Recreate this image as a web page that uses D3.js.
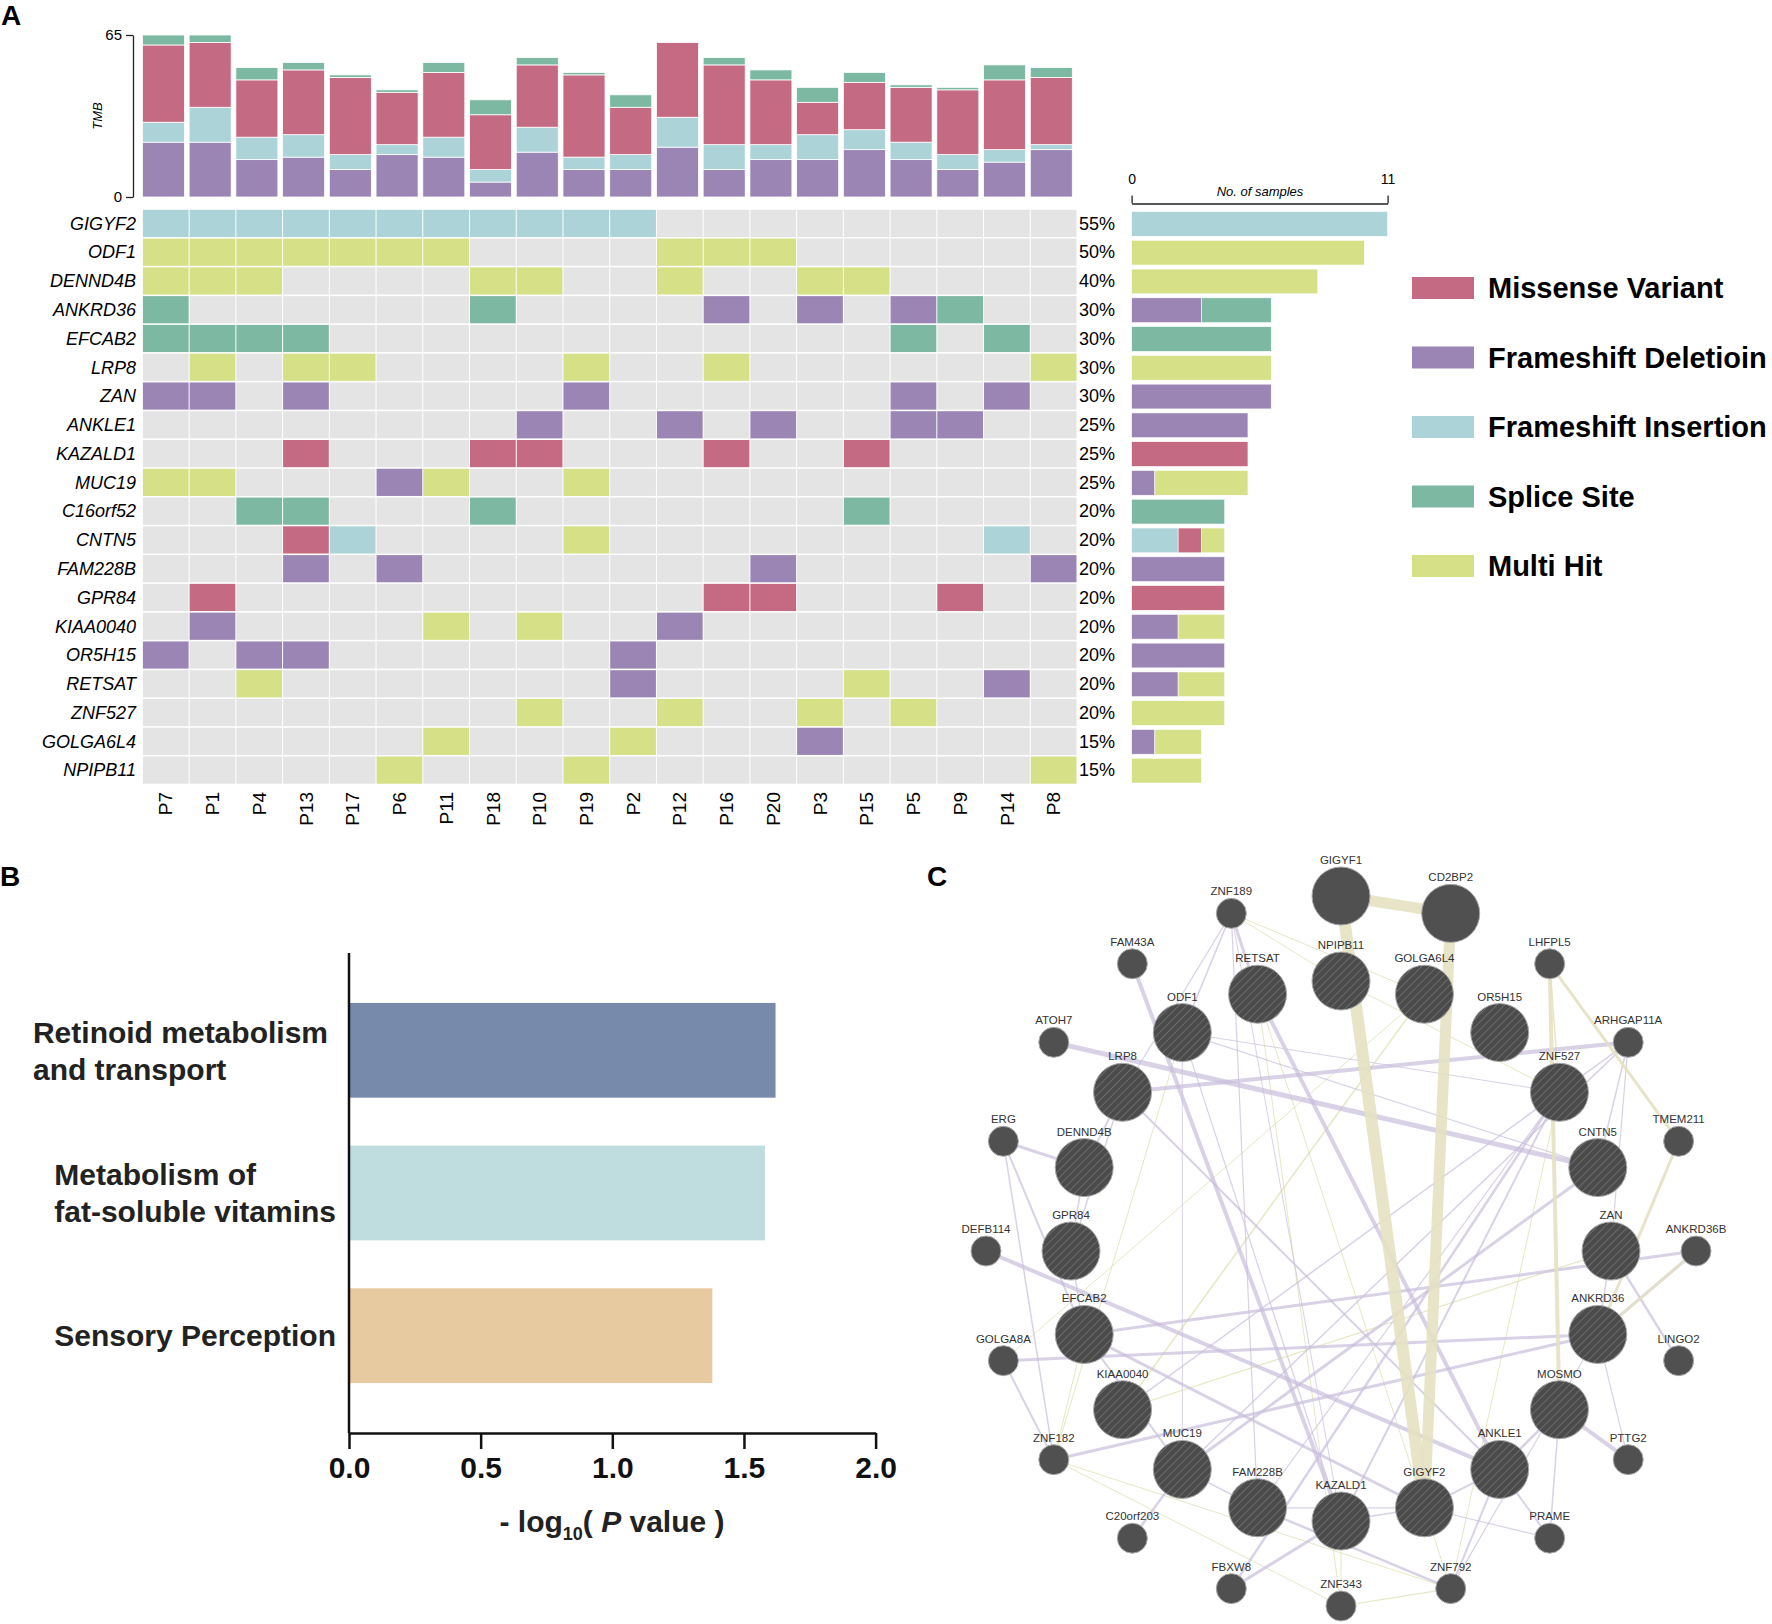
<!DOCTYPE html>
<html>
<head>
<meta charset="utf-8">
<script src="https://cdn.jsdelivr.net/npm/d3@7"></script>
<style>
  body { margin: 0; background: #fff; }
  svg { font-family: "Liberation Sans", Arial, sans-serif; }
</style>
</head>
<body>
<script>
// ---- panel A data ----
const patients = ["P7","P1","P4","P13","P17","P6","P11","P18","P10","P19","P2","P12","P16","P20","P3","P15","P5","P9","P14","P8"];

// TMB per patient, stacked bottom -> top
const tmbDeletion  = [22,22,15,16,11,17,16,6,18,11,11,20,11,15,15,19,15,11,14,19];
const tmbInsertion = [8,14,9,9,6,4,8,5,10,5,6,12,10,6,10,8,7,6,5,2];
const tmbMissense  = [31,26,23,26,31,21,26,22,25,33,19,30,32,26,13,19,22,26,28,27];
const tmbSplice    = [4,3,5,3,1,1,4,6,3,1,5,0,3,4,6,4,1,1,6,4];

const genes = ["GIGYF2","ODF1","DENND4B","ANKRD36","EFCAB2","LRP8","ZAN","ANKLE1","KAZALD1","MUC19",
  "C16orf52","CNTN5","FAM228B","GPR84","KIAA0040","OR5H15","RETSAT","ZNF527","GOLGA6L4","NPIPB11"];

// one char per patient: M missense, D deletion, I insertion, S splice, H multi hit
const mutations = [
  "IIIIIIIIIII.........",
  "HHHHHHH....HHH......",
  "HHH....HH..H..HH....",
  "S......S....D.D.DS..",
  "SSSS............S.S.",
  ".H.HH....H..H......H",
  "DD.D.....D......D.D.",
  "........D..D.D..DD..",
  "...M...MM...M..M....",
  "HH...DH..H..........",
  "..SS...S.......S....",
  "...MI....H........I.",
  "...D.D.......D.....D",
  ".M..........MM...M..",
  ".D....H.H..D........",
  "D.DD......D.........",
  "..H.......D....H..D.",
  "........H..H..H.H...",
  "......H...H...D.....",
  ".....H...H.........H"
];

const typeKeys   = ["M","D","I","S","H"];
const typeNames  = ["Missense Variant","Frameshift Deletioin","Frameshift Insertion","Splice Site","Multi Hit"];
const typeColors = ["#c56a83","#9b85b5","#abd3d8","#7db8a2","#d5e087"];
const sideOrder  = ["I","D","M","S","H"];

// ---- panel B data ----
const pathways = [["Retinoid metabolism","and transport"],["Metabolism of","fat-soluble vitamins"],["Sensory Perception"]];
const pathwayValues = [1.62, 1.58, 1.38];
const pathwayColors = ["#788aab","#bfdcdf","#e8caa0"];
const xTicksB = [0, 0.5, 1.0, 1.5, 2.0];

// ---- panel C data ----
const innerGenes = ["NPIPB11","GOLGA6L4","OR5H15","ZNF527","CNTN5","ZAN","ANKRD36","MOSMO","ANKLE1","GIGYF2",
  "KAZALD1","FAM228B","MUC19","KIAA0040","EFCAB2","GPR84","DENND4B","LRP8","ODF1","RETSAT"];
const outerGenes = ["GIGYF1","CD2BP2","LHFPL5","ARHGAP11A","TMEM211","ANKRD36B","LINGO2","PTTG2","PRAME","ZNF792",
  "ZNF343","FBXW8","C20orf203","ZNF182","GOLGA8A","DEFB114","ERG","ATOH7","FAM43A","ZNF189"];
const bigOuter = ["GIGYF1","CD2BP2"];

// [source, target, kind, width]  kind: p physical, y co-expression, b shared
const edges = [
  ["ZNF189","GOLGA6L4","y",1], ["ZNF189","NPIPB11","y",1], ["NPIPB11","ZNF527","y",1],
  ["GOLGA6L4","KIAA0040","y",1.5], ["GOLGA6L4","GOLGA8A","y",1], ["RETSAT","ZNF343","y",1],
  ["RETSAT","GIGYF2","y",1], ["ODF1","ZNF182","y",1], ["ZNF182","ZNF792","y",1],
  ["ZNF182","ZNF343","y",1], ["ZNF343","ZNF792","y",1.2], ["GIGYF2","ZNF792","y",1],
  ["KAZALD1","ZNF343","y",1], ["ZAN","KIAA0040","y",1.2], ["ZNF527","ZNF792","y",1],
  ["EFCAB2","ZNF182","y",1], ["LHFPL5","ZNF527","y",1.5],
  ["ATOH7","CNTN5","p",5], ["LRP8","ARHGAP11A","p",4], ["FAM43A","KAZALD1","p",4],
  ["RETSAT","ANKLE1","p",4], ["ZNF189","RETSAT","p",3], ["ZNF189","ODF1","p",1.5],
  ["ZNF189","LRP8","p",1.2], ["ZNF189","FAM228B","p",1.2], ["ZNF189","KAZALD1","p",1],
  ["ODF1","CNTN5","p",1.2], ["ODF1","ZNF527","p",1], ["ODF1","MUC19","p",1], ["ODF1","KAZALD1","p",1.2],
  ["LRP8","ANKLE1","p",2], ["LRP8","DENND4B","p",2], ["LRP8","GPR84","p",1.5],
  ["DENND4B","ERG","p",3], ["DENND4B","GPR84","p",1.5], ["ERG","EFCAB2","p",2], ["ERG","ZNF182","p",1.5],
  ["GPR84","EFCAB2","p",1.5], ["DEFB114","ANKLE1","p",4], ["EFCAB2","ANKRD36B","p",3],
  ["EFCAB2","GIGYF2","p",3], ["EFCAB2","MUC19","p",2], ["GOLGA8A","ANKRD36","p",3],
  ["GOLGA8A","ZNF182","p",2], ["ZNF182","ANKRD36","p",3], ["MUC19","CNTN5","p",3],
  ["MUC19","C20orf203","p",2.5], ["MUC19","FAM228B","p",1.5], ["FAM228B","ZNF792","p",2.5],
  ["FAM228B","GIGYF2","p",1.2], ["KAZALD1","FBXW8","p",3], ["KAZALD1","GIGYF2","p",1.5],
  ["KAZALD1","ZNF527","p",2], ["FBXW8","ZNF527","p",2.5], ["ZNF792","ANKLE1","p",2],
  ["ZNF792","ANKRD36","p",1.2], ["GIGYF2","ANKLE1","p",2], ["GIGYF2","PRAME","p",1.2],
  ["ANKLE1","PRAME","p",2], ["ANKLE1","MOSMO","p",2.5], ["MOSMO","PTTG2","p",4],
  ["MOSMO","PRAME","p",1.5], ["ZAN","LINGO2","p",2.5], ["ANKRD36","PTTG2","p",1.2],
  ["ANKRD36B","ANKRD36","p",3], ["ARHGAP11A","ZNF527","p",1.5], ["ARHGAP11A","CNTN5","p",1.5],
  ["ARHGAP11A","ZAN","p",1.2], ["ARHGAP11A","MUC19","p",1.5], ["ZNF527","FAM228B","p",1.2],
  ["ZNF527","KIAA0040","p",1.5], ["ZAN","ANKRD36","p",1.5],
  ["LHFPL5","MOSMO","b",4], ["LHFPL5","TMEM211","b",3], ["TMEM211","ANKRD36","b",3],
  ["ANKRD36B","ANKRD36","b",2.5],
  ["GIGYF1","CD2BP2","b",11], ["GIGYF1","GIGYF2","b",12], ["CD2BP2","GIGYF2","b",11]
];

const W = 1772, H = 1624;
const svg = d3.select("body").append("svg").attr("width", W).attr("height", H);

const color = d3.scaleOrdinal().domain(typeKeys).range(typeColors);

// panel letters
[["A", 1, 25], ["B", 0, 886], ["C", 927, 886]].forEach(([t, x, y]) => {
  svg.append("text").attr("x", x).attr("y", y).attr("font-size", 28)
    .attr("font-weight", "bold").text(t);
});

// ================= A: oncoprint =================
const x = d3.scaleBand().domain(patients).range([142.4, 1077]);
const yRow = d3.scaleBand().domain(genes).range([209, 784.5]);
const yTmb = d3.scaleLinear().domain([0, 65]).range([197, 35]);

// TMB stacked bars
const tmbRows = patients.map((p, i) => ({
  patient: p, D: tmbDeletion[i], I: tmbInsertion[i], M: tmbMissense[i], S: tmbSplice[i]
}));
const stack = d3.stack().keys(["D", "I", "M", "S"])(tmbRows);
svg.append("g").selectAll("g").data(stack).join("g")
  .attr("fill", d => color(d.key))
  .selectAll("rect").data(d => d).join("rect")
  .attr("x", d => x(d.data.patient))
  .attr("width", x.bandwidth() - 4.7)
  .attr("y", d => yTmb(d[1]))
  .attr("height", d => yTmb(d[0]) - yTmb(d[1]))
  .attr("stroke", "#fff").attr("stroke-width", 0.8);

const tmbAxis = svg.append("g").attr("transform", "translate(133,0)")
  .call(d3.axisLeft(yTmb).tickValues([0, 65]).tickSize(7).tickSizeOuter(0).tickPadding(4));
tmbAxis.selectAll("text").attr("font-size", 15).attr("font-family", "Liberation Sans, Arial");
tmbAxis.selectAll("line,path").attr("stroke", "#222").attr("stroke-width", 1.3);

svg.append("text").attr("transform", "translate(102,116) rotate(-90)")
  .attr("text-anchor", "middle").attr("font-size", 13).attr("font-style", "italic").text("TMB");

// grid cells
const cells = [];
genes.forEach((g, r) => patients.forEach((p, c) => cells.push({ gene: g, patient: p, t: mutations[r][c] })));
svg.append("g").selectAll("rect").data(cells).join("rect")
  .attr("x", d => x(d.patient) + 0.5)
  .attr("y", d => yRow(d.gene) + 0.8)
  .attr("width", x.bandwidth() - 1)
  .attr("height", yRow.bandwidth() - 1.6)
  .attr("fill", d => d.t === "." ? "#e4e4e4" : color(d.t));

// gene labels
svg.append("g").selectAll("text").data(genes).join("text")
  .attr("x", 136).attr("y", d => yRow(d) + yRow.bandwidth() / 2)
  .attr("dy", "0.35em").attr("text-anchor", "end")
  .attr("font-size", 18).attr("font-style", "italic").text(d => d);

// percentages
const counts = mutations.map(m => m.split("").filter(c => c !== ".").length);
svg.append("g").selectAll("text").data(genes).join("text")
  .attr("x", 1079).attr("y", d => yRow(d) + yRow.bandwidth() / 2)
  .attr("dy", "0.35em").attr("font-size", 18)
  .text((d, i) => Math.round(counts[i] / patients.length * 100) + "%");

// patient labels
svg.append("g").selectAll("text").data(patients).join("text")
  .attr("transform", d => `translate(${x(d) + x.bandwidth() / 2},792) rotate(-90)`)
  .attr("dy", "0.35em").attr("text-anchor", "end").attr("font-size", 19).text(d => d);

// side bars: number of samples per type
const xSide = d3.scaleLinear().domain([0, 11]).range([1131.6, 1387.6]);
const sideRows = genes.map((g, r) => {
  const o = { gene: g };
  sideOrder.forEach(k => o[k] = mutations[r].split("").filter(c => c === k).length);
  return o;
});
const sideStack = d3.stack().keys(sideOrder)(sideRows);
svg.append("g").selectAll("g").data(sideStack).join("g")
  .attr("fill", d => color(d.key))
  .selectAll("rect").data(d => d).join("rect")
  .attr("x", d => xSide(d[0]))
  .attr("width", d => xSide(d[1]) - xSide(d[0]))
  .attr("y", d => yRow(d.data.gene) + 2.5)
  .attr("height", yRow.bandwidth() - 4)
  .attr("stroke", "#fff").attr("stroke-width", 0.6);

const sideAxis = svg.append("g").attr("transform", "translate(0,203.5)")
  .call(d3.axisTop(xSide).tickValues([0, 11]).tickSize(8).tickSizeOuter(0).tickPadding(12));
sideAxis.selectAll("text").attr("font-size", 14).attr("font-family", "Liberation Sans, Arial");
sideAxis.selectAll("line,path").attr("stroke", "#222").attr("stroke-width", 1.3);
svg.append("text").attr("x", 1260).attr("y", 196).attr("text-anchor", "middle")
  .attr("font-size", 13).attr("font-style", "italic").text("No. of samples");

// legend
const yLeg = d3.scalePoint().domain(typeKeys).range([288, 566]);
const leg = svg.append("g").selectAll("g").data(typeKeys).join("g")
  .attr("transform", d => `translate(1412,${yLeg(d)})`);
leg.append("rect").attr("x", 0).attr("y", -11).attr("width", 62).attr("height", 22)
  .attr("fill", d => color(d));
leg.append("text").attr("x", 76).attr("dy", "0.36em").attr("font-size", 29)
  .attr("font-weight", "bold").text((d, i) => typeNames[i]);

// ================= B: pathway bars =================
const xB = d3.scaleLinear().domain([0, 2]).range([349, 875.6]);
const yB = d3.scaleBand().domain(d3.range(pathways.length)).range([953, 1433])
  .paddingInner(0.336).paddingOuter(0.35);

svg.append("g").selectAll("rect").data(pathwayValues).join("rect")
  .attr("x", xB(0)).attr("y", (d, i) => yB(i))
  .attr("width", d => xB(d) - xB(0)).attr("height", yB.bandwidth())
  .attr("fill", (d, i) => pathwayColors[i]);

svg.append("line").attr("x1", xB(0)).attr("x2", xB(0)).attr("y1", 953).attr("y2", 1433)
  .attr("stroke", "#111").attr("stroke-width", 2.5);
const axB = svg.append("g").attr("transform", "translate(0,1433)")
  .call(d3.axisBottom(xB).tickValues(xTicksB).tickFormat(d3.format(".1f")).tickSize(16).tickSizeOuter(0).tickPadding(8));
axB.selectAll("line,path").attr("stroke", "#111").attr("stroke-width", 2.5);
axB.selectAll("text").attr("font-size", 30).attr("font-weight", "bold")
  .attr("font-family", "Liberation Sans, Arial").attr("fill", "#111");

// category labels, left aligned blocks ending near the axis
pathways.forEach((lines, i) => {
  const cy = yB(i) + yB.bandwidth() / 2;
  const t = svg.append("text").attr("font-size", 30).attr("font-weight", "bold").attr("fill", "#222");
  lines.forEach((l, j) => {
    t.append("tspan").attr("y", cy + (j - (lines.length - 1) / 2) * 37).attr("dy", "0.36em").text(l);
  });
  const wMax = d3.max(t.selectAll("tspan").nodes(), n => n.getComputedTextLength());
  t.selectAll("tspan").attr("x", (i === 0 ? 328 : 336) - wMax);
});

const xt = svg.append("text").attr("x", 612).attr("y", 1532).attr("text-anchor", "middle")
  .attr("font-size", 30).attr("font-weight", "bold").attr("fill", "#222");
xt.append("tspan").text("- log");
xt.append("tspan").attr("font-size", 18).attr("dy", 8).text("10");
xt.append("tspan").attr("dy", -8).text("( ");
xt.append("tspan").attr("font-style", "italic").text("P");
xt.append("tspan").text(" value )");

// ================= C: network =================
const cx = 1341, cy = 1251;
const angle = d3.scaleLinear().domain([0, 20]).range([0, 2 * Math.PI]);
const ring = d3.scaleOrdinal().domain(["inner", "outer"]).range([270, 355]);

const nodes = [];
innerGenes.forEach((g, i) => nodes.push({ id: g, i, ring: "inner", r: 29, hatch: true }));
outerGenes.forEach((g, i) => nodes.push({ id: g, i, ring: "outer", r: bigOuter.includes(g) ? 29 : 15, hatch: false }));
nodes.forEach(n => {
  n.x = cx + ring(n.ring) * Math.sin(angle(n.i));
  n.y = cy - ring(n.ring) * Math.cos(angle(n.i));
});
const byId = new Map(nodes.map(n => [n.id, n]));

const defs = svg.append("defs");
const pat = defs.append("pattern").attr("id", "hatch").attr("patternUnits", "userSpaceOnUse")
  .attr("width", 5.5).attr("height", 5.5).attr("patternTransform", "rotate(45)");
pat.append("rect").attr("width", 5.5).attr("height", 5.5).attr("fill", "#4b4b4b");
pat.append("line").attr("x1", 0).attr("y1", 0).attr("x2", 0).attr("y2", 5.5)
  .attr("stroke", "#727272").attr("stroke-width", 1.6);

const edgeColor = { y: "#dcddaa", p: "#c9bedb", b: "#e4e1c2" };
const edgeOrder = { y: 0, p: 1, b: 2 };
const sortedEdges = edges.slice().sort((a, b) => edgeOrder[a[2]] - edgeOrder[b[2]]);
svg.append("g").selectAll("line").data(sortedEdges).join("line")
  .attr("x1", d => byId.get(d[0]).x).attr("y1", d => byId.get(d[0]).y)
  .attr("x2", d => byId.get(d[1]).x).attr("y2", d => byId.get(d[1]).y)
  .attr("stroke", d => edgeColor[d[2]])
  .attr("stroke-width", d => d[3])
  .attr("stroke-opacity", d => d[2] === "b" ? 0.9 : 0.7);

const gNodes = svg.append("g").selectAll("g").data(nodes).join("g")
  .attr("transform", d => `translate(${d.x},${d.y})`);
gNodes.append("circle").attr("r", d => d.r)
  .attr("fill", d => d.hatch ? "url(#hatch)" : "#505050")
  .attr("stroke", "#a8a8a8").attr("stroke-width", 1);
gNodes.append("text").attr("y", d => -d.r - 3).attr("text-anchor", "middle")
  .attr("font-size", 11.5).attr("fill", "#333").text(d => d.id);
</script>
</body>
</html>
